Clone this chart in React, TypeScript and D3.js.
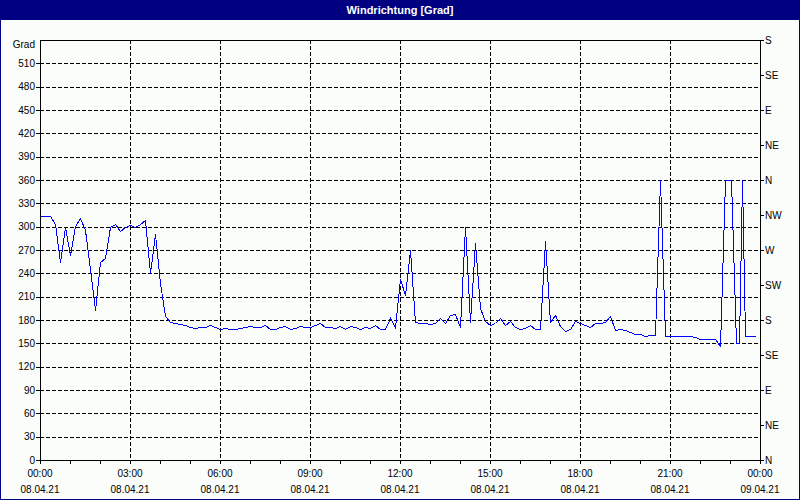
import React from "react";
import * as d3 from "d3";

const TITLE = "Windrichtung [Grad]";
const Y_UNIT = "Grad";
const Y_TICKS = [0, 30, 60, 90, 120, 150, 180, 210, 240, 270, 300, 330, 360, 390, 420, 450, 480, 510];
const DIR_TICKS = [0, 45, 90, 135, 180, 225, 270, 315, 360, 405, 450, 495, 540];
const DIR_LABELS = ["N", "NE", "E", "SE", "S", "SW", "W", "NW", "N", "NE", "E", "SE", "S"];
const X_TICK_HOURS = [0, 3, 6, 9, 12, 15, 18, 21, 24];
const X_TICK_TIMES = ["00:00", "03:00", "06:00", "09:00", "12:00", "15:00", "18:00", "21:00", "00:00"];
const X_TICK_DATES = ["08.04.21", "08.04.21", "08.04.21", "08.04.21", "08.04.21", "08.04.21", "08.04.21", "08.04.21", "09.04.21"];
const MINOR_HOURS = [1, 2, 4, 5, 7, 8, 10, 11, 13, 14, 16, 17, 19, 20, 22, 23];

// minutes since 08.04.21 00:00
const times = [
  0, 10, 20, 30, 40, 50, 60, 70, 80, 90,
  100, 110, 120, 130, 140, 150, 160, 170, 180, 190,
  200, 210, 220, 230, 240, 250, 260, 270, 280, 290,
  300, 310, 320, 330, 340, 350, 360, 370, 380, 390,
  400, 410, 420, 430, 440, 450, 460, 470, 480, 490,
  500, 510, 520, 530, 540, 550, 560, 570, 580, 590,
  600, 610, 620, 630, 640, 650, 660, 670, 680, 690,
  700, 710, 720, 730, 740, 750, 760, 770, 780, 790,
  800, 810, 820, 830, 840, 850, 860, 870, 880, 890,
  900, 910, 920, 930, 940, 950, 960, 970, 980, 990,
  1000, 1010, 1020, 1030, 1040, 1050, 1060, 1070, 1080, 1090,
  1100, 1110, 1120, 1130, 1140, 1150, 1160, 1170, 1180, 1190,
  1200, 1210, 1220, 1230, 1240, 1250, 1260, 1270, 1280, 1290,
  1300, 1310, 1320, 1330, 1340, 1350, 1360, 1370, 1382, 1391,
  1398, 1403, 1410, 1420, 1430,
];
const direction = [
  314, 314, 314, 304, 255, 299, 264, 301, 311, 296,
  245, 193, 255, 260, 300, 304, 295, 299, 302, 299,
  304, 308, 240, 291, 228, 185, 177, 176, 175, 174,
  171, 170, 171, 171, 174, 171, 169, 170, 168, 168,
  170, 171, 172, 171, 171, 173, 168, 168, 171, 172,
  169, 170, 172, 171, 171, 173, 176, 171, 171, 170,
  172, 169, 172, 171, 169, 171, 170, 173, 168, 168,
  183, 171, 233, 212, 270, 178, 176, 176, 175, 176,
  183, 176, 186, 188, 171, 299, 178, 279, 195, 179,
  173, 176, 182, 174, 179, 171, 169, 170, 174, 168,
  169, 282, 178, 186, 172, 166, 168, 179, 176, 174,
  171, 176, 176, 177, 185, 167, 168, 167, 164, 162,
  162, 160, 161, 161, 360, 159, 159, 159, 160, 160,
  160, 158, 155, 155, 156, 156, 146, 360, 360, 150,
  150, 360, 160, 160, 159,
];

const W = 800;
const H = 500;
const L = 40, R = 760, T = 40, B = 460;
const FONT = "'Liberation Sans', Arial, sans-serif";

export default function App() {
  const x = d3.scaleLinear().domain([0, 1440]).range([L, R]);
  const y = d3.scaleLinear().domain([0, 540]).range([B, T]);
  const line = d3
    .line<number>()
    .x((_, i) => Math.round(x(times[i])) + 0.5)
    .y((d) => Math.round(y(d)) + 0.5);
  const px = (v: number) => Math.round(v) + 0.5;

  return (
    <svg
      width={W}
      height={H}
      style={{ position: "absolute", left: 0, top: 0, display: "block" }}
      fontFamily={FONT}
    >
      <rect x={0} y={0} width={W} height={H} fill="#fafdfa" />
      <rect x={0.5} y={0.5} width={W - 1} height={H - 1} fill="none" stroke="#000080" strokeWidth={1} />
      <rect x={0} y={0} width={W} height={20} fill="#000080" />
      <text x={400} y={14} textAnchor="middle" fill="#ffffff" fontWeight="bold" fontSize={11}>
        {TITLE}
      </text>

      {/* grid */}
      <g stroke="#000" strokeDasharray="4,2" shapeRendering="crispEdges">
        {Y_TICKS.filter((v) => v > 0).map((v) => (
          <line key={"h" + v} x1={L} x2={R} y1={px(y(v))} y2={px(y(v))} />
        ))}
        {X_TICK_HOURS.filter((h) => h > 0 && h < 24).map((h) => (
          <line key={"v" + h} x1={px(x(h * 60))} x2={px(x(h * 60))} y1={T} y2={B} />
        ))}
      </g>

      {/* frame */}
      <rect x={L + 0.5} y={T + 0.5} width={R - L} height={B - T} fill="none" stroke="#000" shapeRendering="crispEdges" />

      {/* left axis */}
      <g fontSize={10} fill="#000">
        {Y_TICKS.map((v) => (
          <g key={"yl" + v}>
            <line x1={L - 4} x2={L} y1={px(y(v))} y2={px(y(v))} stroke="#000" shapeRendering="crispEdges" />
            <text x={L - 5} y={y(v) + 3.5} textAnchor="end">
              {v}
            </text>
          </g>
        ))}
        <text x={L - 5} y={T + 8} textAnchor="end">
          {Y_UNIT}
        </text>
      </g>

      {/* right axis */}
      <g fontSize={10} fill="#000">
        {DIR_TICKS.map((v, i) => (
          <g key={"yr" + i}>
            <line x1={R} x2={R + 4} y1={px(y(v))} y2={px(y(v))} stroke="#000" shapeRendering="crispEdges" />
            <text x={R + 5} y={y(v) + 3.5} textAnchor="start">
              {DIR_LABELS[i]}
            </text>
          </g>
        ))}
      </g>

      {/* bottom axis */}
      <g fontSize={10} fill="#000">
        {MINOR_HOURS.concat(X_TICK_HOURS).map((h) => (
          <line key={"xt" + h} x1={px(x(h * 60))} x2={px(x(h * 60))} y1={B} y2={B + 4} stroke="#000" shapeRendering="crispEdges" />
        ))}
        {X_TICK_HOURS.map((h, i) => (
          <g key={"xl" + h}>
            <text x={x(h * 60)} y={477} textAnchor="middle">
              {X_TICK_TIMES[i]}
            </text>
            <text x={x(h * 60)} y={493} textAnchor="middle">
              {X_TICK_DATES[i]}
            </text>
          </g>
        ))}
      </g>

      <path d={line(direction) || ""} fill="none" stroke="#0000ff" strokeWidth={1} shapeRendering="crispEdges" />
    </svg>
  );
}
